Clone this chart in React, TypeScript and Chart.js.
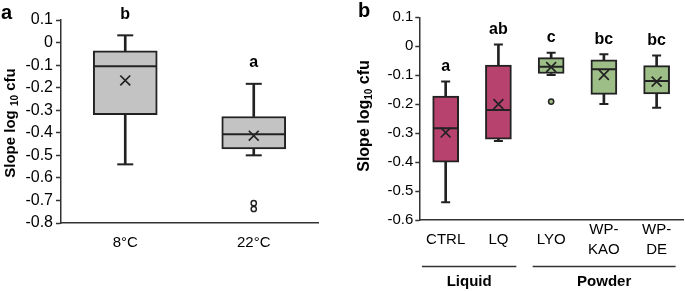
import React, { useEffect, useRef } from "react";
import { Chart, registerables } from "chart.js";

Chart.register(...registerables);

// ---------- Panel a: temperature ----------
const tempCategories = ["8°C", "22°C"];
const tempMin = [-0.54, -0.5];
const tempQ1 = [-0.32, -0.472];
const tempMedian = [-0.105, -0.406];
const tempQ3 = [-0.037, -0.328];
const tempMax = [0.032, -0.183];
const tempMean = [-0.168, -0.413];
const tempOutlierCategory = ["22°C", "22°C"];
const tempOutlierValues = [-0.712, -0.738];
const tempLetters = ["b", "a"];
const tempYMin = -0.8;
const tempYMax = 0.1;

// ---------- Panel b: formulation ----------
const formCategories = [["CTRL"], ["LQ"], ["LYO"], ["WP-", "KAO"], ["WP-", "DE"]];
const formMin = [-0.539, -0.327, -0.099, -0.199, -0.212];
const formQ1 = [-0.4, -0.321, -0.094, -0.166, -0.165];
const formMedian = [-0.283, -0.22, -0.071, -0.079, -0.12];
const formQ3 = [-0.172, -0.065, -0.039, -0.047, -0.067];
const formMax = [-0.122, 0.006, -0.022, -0.028, -0.032];
const formMean = [-0.298, -0.2, -0.072, -0.099, -0.122];
const formOutliers = [null, null, -0.191, null, null];
const formLetters = ["a", "ab", "c", "bc", "bc"];
const formGroupNames = ["Liquid", "Powder"];
const formGroupFirst = [0, 2];
const formGroupLast = [1, 4];
const formYMin = -0.6;
const formYMax = 0.1;

const GRAY = "#c3c3c3";
const MAROON = "#b8426e";
const GREEN = "#9dbe87";
const INK = "#222222";
const FONT = "'Liberation Sans', Arial, Helvetica, sans-serif";

function fmt(v: number) {
  const r = Number(Number(v).toFixed(1));
  return r === 0 ? "0" : String(r);
}

function drawYTitle(
  ctx: CanvasRenderingContext2D,
  cx: number,
  cy: number,
  spaced: boolean,
  size: number
) {
  const parts = [
    { t: spaced ? "Slope log " : "Slope log", f: `bold ${size}px ${FONT}`, dy: 0 },
    { t: "10", f: `bold 10px ${FONT}`, dy: 4 },
    { t: " cfu", f: `bold ${size}px ${FONT}`, dy: 0 },
  ];
  ctx.save();
  ctx.translate(cx, cy);
  ctx.rotate(-Math.PI / 2);
  let total = 0;
  const widths = parts.map((p) => {
    ctx.font = p.f;
    const w = ctx.measureText(p.t).width;
    total += w;
    return w;
  });
  let x = -total / 2;
  ctx.fillStyle = "#000";
  ctx.textBaseline = "middle";
  ctx.textAlign = "left";
  parts.forEach((p, i) => {
    ctx.font = p.f;
    ctx.fillText(p.t, x, p.dy);
    x += widths[i];
  });
  ctx.restore();
}

function boxDatasets(
  min: number[],
  q1: number[],
  med: number[],
  q3: number[],
  max: number[],
  mean: number[],
  colors: string[],
  boxW: number,
  capR: number
): any[] {
  return [
    {
      type: "bar",
      label: "box",
      data: q1.map((v, i) => [v, q3[i]]),
      backgroundColor: colors,
      borderColor: INK,
      borderWidth: 2,
      borderSkipped: false,
      barThickness: boxW,
      grouped: false,
      order: 2,
    },
    {
      type: "bar",
      label: "whiskerLow",
      data: min.map((v, i) => [v, q1[i]]),
      backgroundColor: INK,
      borderWidth: 0,
      barThickness: 2,
      grouped: false,
      order: 3,
    },
    {
      type: "bar",
      label: "whiskerHigh",
      data: q3.map((v, i) => [v, max[i]]),
      backgroundColor: INK,
      borderWidth: 0,
      barThickness: 2,
      grouped: false,
      order: 3,
    },
    {
      type: "line",
      label: "capLow",
      data: min,
      showLine: false,
      pointStyle: "line",
      pointRadius: capR,
      pointBorderWidth: 2,
      pointBorderColor: INK,
      order: 1,
    },
    {
      type: "line",
      label: "capHigh",
      data: max,
      showLine: false,
      pointStyle: "line",
      pointRadius: capR,
      pointBorderWidth: 2,
      pointBorderColor: INK,
      order: 1,
    },
    {
      type: "line",
      label: "median",
      data: med,
      showLine: false,
      pointStyle: "line",
      pointRadius: boxW / 2 - 1,
      pointBorderWidth: 2,
      pointBorderColor: INK,
      order: 1,
    },
    {
      type: "line",
      label: "mean",
      data: mean,
      showLine: false,
      pointStyle: "crossRot",
      pointRadius: 7,
      pointBorderWidth: 1.7,
      pointBorderColor: INK,
      order: 0,
    },
  ];
}

function yScale(min: number, max: number, width: number, tickLen: number, pad: number, size: number) {
  return {
    min,
    max,
    afterFit: (s: any) => {
      s.width = width;
    },
    ticks: {
      stepSize: 0.1,
      autoSkip: false,
      color: "#000",
      padding: pad,
      font: { family: FONT, size },
      callback: (v: any) => fmt(v),
    },
    grid: {
      drawOnChartArea: false,
      drawTicks: true,
      tickLength: tickLen,
      tickWidth: 1.5,
      tickColor: "#333",
    },
    border: { display: true, color: "#333", width: 1.5 },
  };
}

function xScale(height: number, pad: number, size: number, lineHeight: number) {
  return {
    offset: true,
    afterFit: (s: any) => {
      s.height = height;
    },
    ticks: {
      color: "#000",
      padding: pad,
      crossAlign: "center",
      maxRotation: 0,
      autoSkip: false,
      font: { family: FONT, size, lineHeight },
    },
    grid: { display: true, drawOnChartArea: false, drawTicks: false },
    border: { display: true, color: "#333", width: 1.5 },
  };
}

function PanelA() {
  const ref = useRef<HTMLCanvasElement>(null);
  useEffect(() => {
    const canvas = ref.current!;
    const annot = {
      id: "annotA",
      afterDraw(chart: any) {
        const ctx = chart.ctx;
        const ys = chart.scales.y;
        const xs = chart.scales.x;
        ctx.save();
        ctx.fillStyle = "#000";
        ctx.textAlign = "center";
        ctx.textBaseline = "middle";
        ctx.font = `bold 16px ${FONT}`;
        tempLetters.forEach((l, i) => {
          ctx.fillText(l, xs.getPixelForValue(i), ys.getPixelForValue(tempMax[i]) - 21);
        });
        ctx.font = `bold 20px ${FONT}`;
        ctx.textAlign = "left";
        ctx.fillText("a", 1, 13);
        ctx.restore();
        drawYTitle(ctx, 11, 123, true, 15);
      },
    };
    const chart = new Chart(canvas, {
      type: "bar",
      data: {
        labels: tempCategories,
        datasets: [
          ...boxDatasets(tempMin, tempQ1, tempMedian, tempQ3, tempMax, tempMean, [GRAY, GRAY], 64, 8),
          {
            type: "line",
            label: "outliers",
            data: tempOutlierCategory.map((c, i) => ({ x: c, y: tempOutlierValues[i] })),
            showLine: false,
            pointStyle: "circle",
            pointRadius: 2.6,
            pointBorderWidth: 1.5,
            pointBorderColor: INK,
            pointBackgroundColor: "#ffffff",
            order: 0,
          },
        ] as any,
      },
      options: {
        animation: false,
        responsive: false,
        events: [],
        layout: { autoPadding: false, padding: { top: 20, right: 22, left: 0, bottom: 0 } },
        plugins: { legend: { display: false }, tooltip: { enabled: false } },
        scales: {
          x: xScale(68, 20, 15, 1.2) as any,
          y: yScale(tempYMin, tempYMax, 61, 5, 3, 16) as any,
        },
      },
      plugins: [annot],
    });
    return () => chart.destroy();
  }, []);
  return <canvas ref={ref} width={340} height={291} style={{ position: "absolute", left: 0, top: 0 }} />;
}

function PanelB() {
  const ref = useRef<HTMLCanvasElement>(null);
  useEffect(() => {
    const canvas = ref.current!;
    const annot = {
      id: "annotB",
      afterDraw(chart: any) {
        const ctx = chart.ctx;
        const ys = chart.scales.y;
        const xs = chart.scales.x;
        ctx.save();
        ctx.fillStyle = "#000";
        ctx.textAlign = "center";
        ctx.textBaseline = "middle";
        ctx.font = `bold 16px ${FONT}`;
        formLetters.forEach((l, i) => {
          ctx.fillText(l, xs.getPixelForValue(i), ys.getPixelForValue(formMax[i]) - 15);
        });
        const step = xs.getPixelForValue(1) - xs.getPixelForValue(0);
        formGroupNames.forEach((g, i) => {
          const a = xs.getPixelForValue(formGroupFirst[i]) - (i === 0 ? 0.45 : 0.35) * step;
          const b = xs.getPixelForValue(formGroupLast[i]) + (i === 0 ? 0.34 : 0.36) * step;
          ctx.strokeStyle = "#333";
          ctx.lineWidth = 1.5;
          ctx.beginPath();
          ctx.moveTo(a, 266.5);
          ctx.lineTo(b, 266.5);
          ctx.stroke();
          ctx.font = `bold 15px ${FONT}`;
          ctx.fillText(g, (a + b) / 2, 282);
        });
        ctx.font = `bold 20px ${FONT}`;
        ctx.textAlign = "left";
        ctx.fillText("b", 18, 11);
        ctx.restore();
        drawYTitle(ctx, 25, 116, false, 16);
      },
    };
    const chart = new Chart(canvas, {
      type: "bar",
      data: {
        labels: formCategories as any,
        datasets: [
          ...boxDatasets(
            formMin,
            formQ1,
            formMedian,
            formQ3,
            formMax,
            formMean,
            [MAROON, MAROON, GREEN, GREEN, GREEN],
            26,
            4.5
          ),
          {
            type: "line",
            label: "outliers",
            data: formOutliers,
            showLine: false,
            pointStyle: "circle",
            pointRadius: 2.6,
            pointBorderWidth: 1.5,
            pointBorderColor: INK,
            pointBackgroundColor: GREEN,
            order: 0,
          },
        ] as any,
      },
      options: {
        animation: false,
        responsive: false,
        events: [],
        layout: { autoPadding: false, padding: { top: 17.3, right: 2, left: 0, bottom: 0 } },
        plugins: { legend: { display: false }, tooltip: { enabled: false } },
        scales: {
          x: xScale(71, 10, 15, 1.33) as any,
          y: yScale(formYMin, formYMax, 79.3, 4, 2, 15) as any,
        },
      },
      plugins: [annot],
    });
    return () => chart.destroy();
  }, []);
  return <canvas ref={ref} width={345} height={291} style={{ position: "absolute", left: 340, top: 0 }} />;
}

export default function App() {
  return (
    <div
      style={{
        position: "fixed",
        left: 0,
        top: 0,
        width: 685,
        height: 291,
        background: "#ffffff",
        overflow: "hidden",
      }}
    >
      <PanelA />
      <PanelB />
    </div>
  );
}
